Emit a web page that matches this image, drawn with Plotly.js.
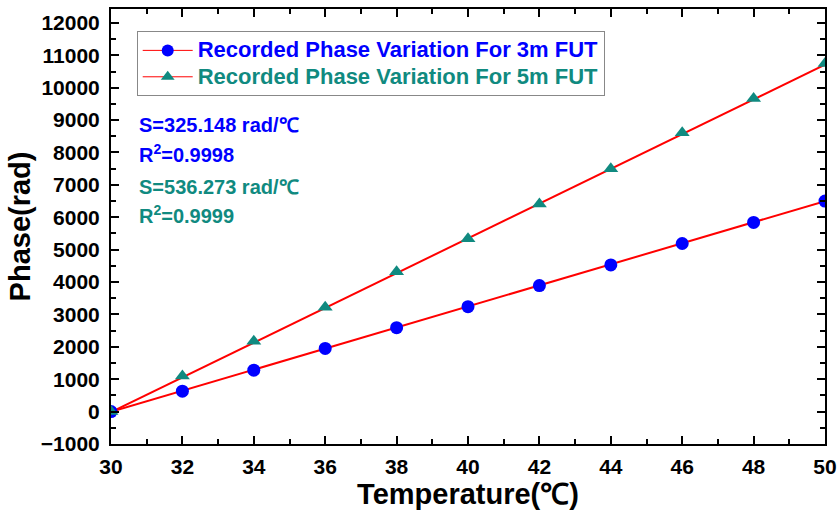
<!DOCTYPE html>
<html>
<head>
<meta charset="utf-8">
<script src="https://cdn.plot.ly/plotly-3.0.1.min.js"></script>
<style>html,body{margin:0;padding:0;background:#fff;}#chart{width:838px;height:513px;}</style>
</head>
<body>
<div id="chart"></div>
<script>
// Temperature steps (℃)
const temperature = [30, 32, 34, 36, 38, 40, 42, 44, 46, 48, 50];
// Recorded phase variation (rad)
const phase3m = [0, 630, 1280, 1950, 2590, 3240, 3890, 4530, 5190, 5840, 6500];
const phase5m = [0, 1100, 2170, 3220, 4320, 5340, 6410, 7500, 8610, 9670, 10750];
// Linear fit end points (rad) at the ends of the temperature span
const fitT = [30, 50];
const fit3m = [-5, 6498];
const fit5m = [-15, 10710];

const blue = '#0000ff';
const teal = '#108a80';
const red = '#ff0000';
const font = 'Liberation Sans, Arial, sans-serif';

const name3m = 'Recorded Phase Variation For 3m FUT';
const name5m = 'Recorded Phase Variation For 5m FUT';

function legendLabel(text, color) {
  return '<span style="color:' + color + ';font-size:22px">' + text + '</span>';
}

const traces = [
  {x: fitT, y: fit3m, mode: 'lines', line: {color: red, width: 2}, showlegend: false, hoverinfo: 'skip'},
  {x: fitT, y: fit5m, mode: 'lines', line: {color: red, width: 2}, showlegend: false, hoverinfo: 'skip'},
  {x: temperature, y: phase3m, mode: 'markers', showlegend: false,
   marker: {symbol: 'circle', size: 13, color: blue}},
  {x: temperature, y: phase5m, mode: 'markers', showlegend: false,
   marker: {symbol: 'triangle-up', size: 13, color: teal}},
  // legend entries: red fit line with the series marker
  {x: [null], y: [null], mode: 'lines+markers', name: legendLabel(name3m, blue),
   line: {color: red, width: 1}, marker: {symbol: 'circle', size: 12, color: blue}},
  {x: [null], y: [null], mode: 'lines+markers', name: legendLabel(name5m, teal),
   line: {color: red, width: 1}, marker: {symbol: 'triangle-up', size: 12, color: teal}}
];

const axisCommon = {
  showline: true, linecolor: '#000', linewidth: 2, mirror: 'ticks',
  ticks: 'inside', ticklen: 8, tickwidth: 2, tickcolor: '#000',
  showgrid: false, zeroline: false, tickformat: 'd',
  tickfont: {family: font, size: 21, color: '#000', weight: 'bold'}
};

const layout = {
  width: 838, height: 513,
  margin: {l: 111, r: 13, t: 9, b: 69},
  paper_bgcolor: '#fff', plot_bgcolor: '#fff',
  font: {family: font},
  xaxis: Object.assign({}, axisCommon, {
    range: [30, 50], dtick: 2, tick0: 30, ticklabelstandoff: 3,
    minor: {dtick: 1, ticks: 'inside', ticklen: 5, tickwidth: 2, tickcolor: '#000'},
    title: {text: 'Temperature(℃)', font: {family: font, size: 29, color: '#000', weight: 'bold'}, standoff: 2}
  }),
  yaxis: Object.assign({}, axisCommon, {
    range: [-1000, 12430], dtick: 1000, tick0: 0, ticklabelstandoff: 5,
    minor: {dtick: 500, ticks: 'inside', ticklen: 5, tickwidth: 2, tickcolor: '#000'},
    title: {text: 'Phase(rad)', font: {family: font, size: 29, color: '#000', weight: 'bold'}, standoff: 2}
  }),
  legend: {
    x: 0.036, y: 0.949, xanchor: 'left', yanchor: 'top',
    bgcolor: '#fff', bordercolor: '#888', borderwidth: 1,
    font: {family: font, size: 18, weight: 'bold'},
    itemwidth: 50, tracegroupgap: 0
  },
  annotations: [
    {text: 'S=325.148 rad/℃', x: 0.036, y: 125, color: blue},
    {text: 'R<sup>2</sup>=0.9998', x: 0.036, y: 154, color: blue},
    {text: 'S=536.273 rad/℃', x: 0.036, y: 187, color: teal},
    {text: 'R<sup>2</sup>=0.9999', x: 0.036, y: 214, color: teal}
  ].map(a => ({
    text: a.text, xref: 'x domain', yref: 'paper', x: a.x,
    y: 1 - (a.y - 9) / (513 - 9 - 69), xanchor: 'left', yanchor: 'middle',
    showarrow: false, font: {family: font, size: 20, color: a.color, weight: 'bold'}
  }))
};

Plotly.newPlot('chart', traces, layout, {displayModeBar: false, staticPlot: true});
</script>
</body>
</html>
